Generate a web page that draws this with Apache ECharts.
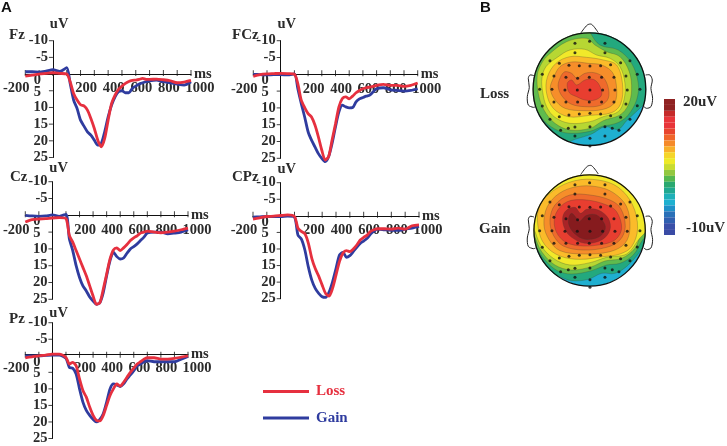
<!DOCTYPE html>
<html><head><meta charset="utf-8">
<style>html,body{margin:0;padding:0;background:#fff}#c{width:727px;height:446px}</style>
<script src="https://cdn.jsdelivr.net/npm/echarts@6/dist/echarts.min.js"></script>
</head><body><div id="c"></div>
<script>
const ms=[-200,-150,-100,-50,0,50,100,125,150,175,200,225,250,275,300,325,350,375,400,425,450,475,500,525,550,575,600,625,650,675,700,750,800,850,900,950,1000];
const fzLoss=[0.6,0.3,0,-0.2,-0.4,-0.2,0,2.3,5.8,7.8,9.2,9.5,10.8,13.3,16.3,19.8,21.8,19.3,13.8,8.8,6.3,4.6,3.6,2.8,2.2,1.9,1.8,1.6,1.3,1.6,1.6,1.5,1.7,2.0,2.6,2.4,1.9];
const fzGain=[-0.7,-0.7,-0.6,-0.9,-1.3,-0.8,-1.9,2.8,7.8,10.3,13.8,15.6,17.3,18.3,19.8,21.3,20.8,17.3,12.8,9.3,6.8,5.3,5,5.6,5.6,4.3,3.6,3,2.6,2.3,2,1.8,2.3,2.6,3,3.3,2.3];
const fczLoss=[0.6,0.1,-0.1,-0.2,-0.3,-0.2,0,2.8,7.7,9.9,11.7,12.7,15.1,18.6,22.6,25.5,24.5,19.6,14.7,9.7,7.2,6.7,7.3,6.5,5.5,4.8,4.3,4,3.8,3.6,3.3,3,3.3,3.3,3.6,3.3,2.6];
const fczGain=[0,0.1,0.2,0.1,0.1,0.2,-0.1,4.3,8.7,12.7,17.1,19.6,21.6,23.6,25,26,24.5,20.6,15.6,11.2,9.2,9.7,10,9.9,8.2,7.3,6.9,6.5,6.2,5.2,4.3,4,4.6,4.8,5,4.8,4.3];
const czLoss=[2,1.3,1.1,1,0.8,0.7,1,6,8,10.5,13,15.5,18,21,24,26.5,26,22,17.5,13,10.3,9.7,10.5,9.7,8.7,7.5,6.7,6.1,5.3,5,4.7,5,5.2,5,4.7,4.3,3.8];
const czGain=[0,0.2,0.3,0.2,-0.1,0.3,-0.3,7,10.5,15,18.5,21,22.5,24.3,25.5,26.5,26,23,18,13.5,11,12.3,13,12.7,11.3,10,9.3,8.5,7.5,6.5,5.3,5,5,5.5,5.3,5,4.3];
const cpzLoss=[1,0.6,0.2,0.1,-0.1,-0.3,0.2,3.7,4.7,5.4,8.2,12.8,15.9,18.2,20.9,23.4,24.2,21.9,17.9,13.8,11.3,10.5,10.8,10,8.8,7.3,6.5,5.8,4.7,4.2,3.9,3.9,4,3.7,4,3,2.7];
const cpzGain=[0.4,0.3,0.2,0.2,0.2,0.1,0.4,5.8,7,10.3,15.4,19.4,21.9,23.4,24.4,24.6,23,19.9,15.9,11.8,11,12.5,12,10.8,9.5,8.3,7.6,6.8,5.5,4.6,4,4.2,4.4,4.4,4,3.7,3.2];
const pzLoss=[0.6,0.3,0,-0.2,-0.5,-0.5,0.5,2.5,2,3,7,10.5,12.5,15.5,18,19.5,19.7,18,15,12,10,8.5,9.2,8,6.5,5,3.7,2.5,1.8,1,0.6,0.6,1,1,0.8,0.4,0];
const pzGain=[0,0,0,-0.1,-0.2,-0.2,0.8,3.5,3.8,5.5,10,14,16.5,18,19.2,20,19.2,17.5,14,10,8.5,8.8,9.3,8.5,7,5.8,4.5,3,2.5,1.8,1.5,1.8,1.8,1.8,1.8,1,0.2];
const legendNames=['Loss','Gain'];
const xTicks=[-200,-100,0,100,200,300,400,500,600,700,800,900,1000];
const yTicks=[-10,-5,5,10,15,20,25];
const RED='#e6303f',BLUE='#2f3c9f',INK='#2b2b2b';
const SERIF='"Liberation Serif","Times New Roman",serif';

const electrodes=[[359,124],[315,130],[405,130],[315,158],[405,158],[240,182],[480,182],[452,188],[268,190],[297,196],[328,197],[360,198],[392,197],[422,194],[217,223],[502,223],[252,228],[288,232],[323,235],[358,232],[395,232],[432,232],[468,228],[209,268],[246,268],[285,270],[322,270],[360,270],[398,270],[435,270],[472,270],[510,268],[217,318],[252,306],[288,306],[323,306],[358,306],[395,306],[432,306],[468,312],[502,317],[240,358],[268,350],[297,345],[328,342],[360,340],[392,342],[422,347],[452,352],[480,358],[272,391],[295,385],[315,381],[360,380],[405,380],[427,385],[447,391],[315,408],[360,415],[405,408],[360,438]];
const nose=[[332,100],[352,75],[365,73],[385,98]];
const earL=[[192,227],[180,225],[175,235],[178,262],[172,290],[175,315],[190,322],[197,320]];
const earR=[[527,225],[540,225],[547,240],[543,265],[548,295],[543,320],[530,325],[522,320]];
const lossBands=[
 [[544,290],[515,320],[470,362],[445,388],[405,380],[365,402],[315,418],[285,428],[228,398],[173,267],[228,137],[358,82],[489,137],[544,267]],
 [[358,82],[362,100],[390,135],[445,150],[485,190],[505,250],[500,300],[475,345],[450,365],[420,375],[400,378],[360,394],[305,400],[265,392],[225,365],[195,320],[173,267],[228,137]],
 [[235,165],[290,125],[350,115],[375,135],[410,155],[450,170],[478,215],[485,270],[475,315],[450,345],[400,362],[360,385],[300,390],[255,370],[222,330],[205,280],[202,225],[215,190]],
 [[228,200],[265,170],[300,150],[345,148],[380,165],[420,175],[450,200],[465,250],[462,300],[445,335],[400,350],[360,365],[300,370],[255,352],[230,320],[218,275],[216,235]],
 [[232,232],[258,190],[300,170],[350,172],[400,180],[440,195],[458,255],[452,312],[425,338],[360,346],[295,350],[250,325],[230,280]],
 [[250,235],[270,200],[305,186],[355,190],[395,195],[428,218],[440,265],[434,308],[400,328],[340,332],[285,325],[254,298],[241,265]],
 [[268,240],[283,216],[305,220],[320,234],[345,220],[372,218],[398,230],[414,260],[415,295],[392,316],[345,320],[303,312],[276,288],[265,262]],
 [[292,250],[305,240],[320,255],[345,240],[370,238],[388,255],[395,285],[375,300],[345,300],[320,290],[298,278]]
];
const gainBands=[
 [[544,241],[520,290],[475,345],[435,370],[395,370],[355,388],[305,392],[262,378],[228,372],[174,241],[228,111],[359,56],[490,111]],
 [[544,241],[518,270],[490,315],[450,340],[410,345],[365,362],[305,372],[262,362],[225,330],[195,285],[174,241],[228,111],[359,56],[490,111]],
 [[544,225],[515,250],[495,295],[455,325],[405,333],[365,350],[305,360],[255,345],[215,305],[192,255],[174,225],[228,111],[359,56],[490,111]],
 [[544,215],[505,270],[470,312],[410,322],[360,338],[300,345],[250,325],[212,285],[190,235],[174,225],[228,111],[359,56],[490,111]],
 [[488,165],[503,235],[485,290],[450,312],[400,320],[330,328],[270,318],[225,285],[205,235],[208,170],[250,122],[315,92],[385,90],[445,112]],
 [[470,170],[480,235],[465,280],[420,305],[340,312],[270,302],[238,270],[222,225],[232,170],[268,130],[320,110],[380,110],[430,128]],
 [[452,175],[466,230],[450,270],[410,292],[340,300],[280,288],[250,255],[240,210],[255,165],[300,135],[360,135],[420,150]],
 [[440,185],[455,235],[435,270],[385,285],[325,287],[280,272],[255,235],[258,190],[292,155],[350,150],[410,165]],
 [[278,205],[288,182],[315,172],[332,190],[350,178],[385,180],[415,205],[420,240],[395,270],[345,280],[305,262],[285,238]],
 [[296,205],[305,190],[320,205],[328,215],[350,196],[380,195],[403,220],[405,240],[385,262],[345,268],[315,252],[298,228]]
];
const lossColors=['#23a97e','#5fbb4e','#b7d733','#f1e92a','#fbbb2a','#f68e2a','#ef6a2c','#e83e30'];
const gainColors=['#23a97e','#5fbb4e','#b7d733','#f1e92a','#fbbb2a','#f68e2a','#ef6a2c','#e83e30','#a92427','#861b1e'];
const scaleColors=['#8f2222','#8f2222','#c52a2a','#e8353a','#e8353a','#e8452e','#f0662b','#f58a2a','#f8b02a','#f5d52a','#eeea28','#c9dc30','#93c840','#55b850','#2aa870','#20a890','#1fb0b8','#1fb0d0','#1f90c8','#2a70b8','#3060b0','#3a50a8','#3a4ba5'];

const panels=[
 {name:'Fz',left:24,width:167,top:40.7,height:116.8,loss:fzLoss,gain:fzGain,uvGap:9,lx:9,ly:35},
 {name:'FCz',left:253.3,width:164.4,top:40.7,height:117.6,loss:fczLoss,gain:fczGain,uvGap:9,lx:232,ly:35},
 {name:'Cz',left:24,width:164,top:181.7,height:117.6,loss:czLoss,gain:czGain,uvGap:6,lx:10,ly:177},
 {name:'CPz',left:253,width:166,top:182.7,height:116,loss:cpzLoss,gain:cpzGain,uvGap:6,lx:232,ly:177},
 {name:'Pz',left:24,width:164,top:322.7,height:118,loss:pzLoss,gain:pzGain,uvGap:1.5,lx:9,ly:319}
];
const grid=[],xAxis=[],yAxis=[],series=[];
const txt={fontFamily:SERIF,fontWeight:'bold',fontSize:14.5,color:INK};
panels.forEach((p,i)=>{
  grid.push({left:p.left,top:p.top,width:p.width,height:p.height});
  xAxis.push({gridIndex:i,type:'value',min:-200,max:1000,interval:100,position:'bottom',
    offset:-p.height*25/35,
    name:'ms',nameLocation:'end',nameGap:3,nameMoveOverlap:false,nameTextStyle:{...txt,verticalAlign:'middle',padding:[8,0,0,0]},
    splitLine:{show:false},
    axisLine:{onZero:false,lineStyle:{color:'#111',width:1}},
    axisTick:{show:false},
    axisLabel:{show:true,margin:7,hideOverlap:false,showMinLabel:true,showMaxLabel:true,...txt,
      formatter:v=>{
        if(v===0||Math.abs(v)%200!==0)return '';
        if(v===-200)return '{n|-200}';
        if(v===1000)return '{m|1000}';
        return '{p|'+v+'}';
      },
      rich:{n:{...txt,padding:[0,18,0,0]},m:{...txt,padding:[0,0,0,18]},p:{...txt,padding:[0,0,0,11]}}}
  });
  yAxis.push({gridIndex:i,type:'value',inverse:true,min:-10,max:25,interval:5,position:'left',
    offset:-p.width*200/1200,
    name:'uV',nameLocation:'start',nameGap:p.uvGap,nameMoveOverlap:false,nameTextStyle:{...txt,padding:[0,0,0,12]},
    splitLine:{show:false},
    axisLine:{onZero:false,lineStyle:{color:'#111',width:1}},
    axisTick:{show:false},
    axisLabel:{margin:5,hideOverlap:false,showMinLabel:true,showMaxLabel:true,...txt,
      formatter:v=>v===0?'{z|0}':(v===5?'{f|5}':String(v)),
      rich:{z:{...txt,padding:[12,7,0,0]},f:{...txt,padding:[2,7,0,0]}}}
  });
  const tick=(data,size,offset)=>series.push({type:'scatter',xAxisIndex:i,yAxisIndex:i,data,symbol:'rect',
    symbolSize:size,symbolOffset:offset,silent:true,clip:false,z:2,itemStyle:{color:'#111'}});
  tick(xTicks.map(v=>[v,0]),[1,6],[0,-1]);
  tick(yTicks.map(v=>[0,v]),[4,1],[-2,0]);
  [['Gain',p.gain,BLUE],['Loss',p.loss,RED]].forEach(([n,vals,c])=>{
    series.push({name:n,type:'line',xAxisIndex:i,yAxisIndex:i,data:ms.map((m,k)=>[m,vals[k]]),
      showSymbol:false,symbol:'none',smooth:0.25,clip:false,z:3,silent:true,
      lineStyle:{color:c,width:2.8},itemStyle:{color:c}});
  });
});

function headAxes(top,yMin){
  const g=grid.length;
  grid.push({left:513.3,top:top,width:153.3,height:140});
  xAxis.push({gridIndex:g,type:'value',min:130,max:590,show:false});
  yAxis.push({gridIndex:g,type:'value',inverse:true,min:yMin,max:yMin+420,show:false});
  return g;
}
function shapeSeries(g,yIdx,z,items,render){
  series.push({type:'custom',coordinateSystem:'cartesian2d',xAxisIndex:g,yAxisIndex:yIdx,z:z,silent:true,clip:false,
    data:items.map((_,k)=>[k,0]),
    renderItem:(params,api)=>render(items[params.dataIndex],api)});
}
const pts=(arr,api)=>arr.map(q=>api.coord(q));
function addHead(g,frameAxis,bandAxis,bands,colors,cx,cy,r){
  shapeSeries(g,bandAxis,4,[[cx,cy,r]],(c,api)=>{const o=api.coord([c[0],c[1]]);
    return {type:'circle',shape:{cx:o[0],cy:o[1],r:c[2]/3},style:{fill:'#1fafd0'}};});
  shapeSeries(g,bandAxis,5,bands.map((b,k)=>({b,c:colors[k]})),(it,api)=>({type:'polygon',
    shape:{points:pts(it.b,api),smooth:0.35},
    style:{fill:it.c,stroke:'rgba(60,60,50,0.45)',lineWidth:0.6}}));
  shapeSeries(g,bandAxis,6,[[cx,cy,r]],(c,api)=>{const o=api.coord([c[0],c[1]]);
    return {type:'group',children:[
      {type:'circle',shape:{cx:o[0],cy:o[1],r:c[2]/3+7},style:{fill:'none',stroke:'#fff',lineWidth:13}},
      {type:'circle',shape:{cx:o[0],cy:o[1],r:c[2]/3},style:{fill:'none',stroke:'#111',lineWidth:1.3}}]};});
  shapeSeries(g,frameAxis,7,[nose,earL,earR],(s,api)=>({type:'polyline',
    shape:{points:pts(s,api),smooth:0.3},style:{fill:'none',stroke:'#222',lineWidth:1}}));
  series.push({type:'scatter',xAxisIndex:g,yAxisIndex:frameAxis,data:electrodes,symbol:'circle',symbolSize:3,
    clip:false,silent:true,z:8,itemStyle:{color:'#111'}});
}
const g1=headAxes(20,60);
addHead(g1,yAxis.length-1,yAxis.length-1,lossBands,lossColors,358.5,267.5,169);
const g2=headAxes(160,30);
yAxis.push({gridIndex:g2,type:'value',inverse:true,min:56,max:476,show:false});
addHead(g2,yAxis.length-1,yAxis.length-2,gainBands,gainColors,359,241.5,167);

const gs=grid.length;
grid.push({left:664,top:99,width:11,height:136});
xAxis.push({gridIndex:gs,type:'value',min:0,max:1,show:false});
yAxis.push({gridIndex:gs,type:'category',inverse:true,show:false,data:scaleColors.map((_,k)=>k)});
series.push({type:'bar',xAxisIndex:gs,yAxisIndex:yAxis.length-1,barWidth:'100%',silent:true,z:3,
  data:scaleColors.map(c=>({value:1,itemStyle:{color:c}}))});

const label=(t,x,y,extra)=>({type:'text',x:x,y:y,silent:true,z:20,
  style:{text:t,fontFamily:SERIF,fontWeight:'bold',fontSize:14.5,fill:INK,verticalAlign:'middle',...extra}});
const graphic=[
  label('A',1,8,{fontFamily:'"Liberation Sans",Arial,sans-serif',fontSize:15,fill:'#111'}),
  label('B',480,8,{fontFamily:'"Liberation Sans",Arial,sans-serif',fontSize:15,fill:'#111'}),
  ...panels.map(p=>label(p.name,p.lx,p.ly,{fontSize:15})),
  label('Loss',480,94,{fontSize:15}),
  label('Gain',479,229,{fontSize:15}),
  label('20uV',683,102,{fontSize:15}),
  label('-10uV',686,228,{fontSize:15})
];
const chart=echarts.init(document.getElementById('c'),null,{renderer:'canvas'});
chart.setOption({animation:false,backgroundColor:'#fff',grid,xAxis,yAxis,series,graphic,
  legend:{left:258,top:379,orient:'vertical',itemWidth:46,itemHeight:3,itemGap:11.5,selectedMode:false,icon:'rect',
    data:legendNames.map((n,i)=>({name:n,itemStyle:{color:i?BLUE:RED},textStyle:{color:i?BLUE:RED}})),
    textStyle:{fontFamily:SERIF,fontWeight:'bold',fontSize:15,padding:[0,0,0,2]}}
});
</script></body></html>
